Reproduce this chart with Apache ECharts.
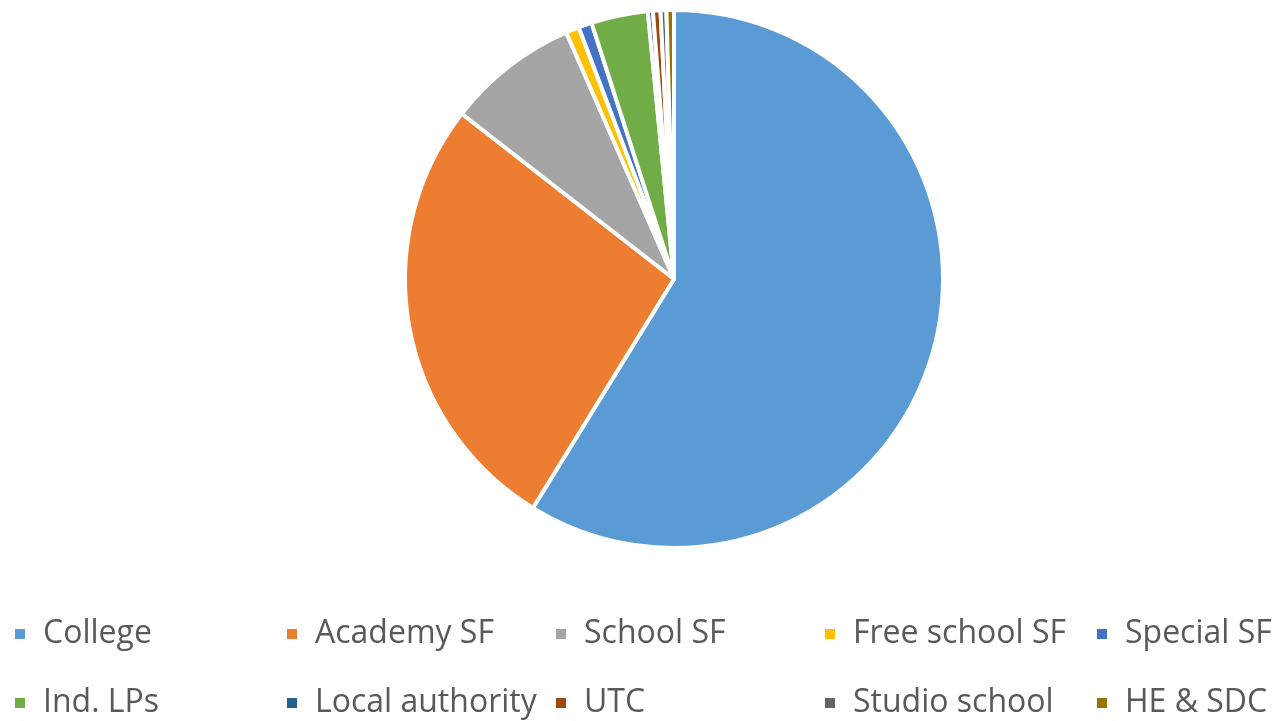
<!DOCTYPE html>
<html>
<head>
<meta charset="utf-8">
<script src="https://cdn.jsdelivr.net/npm/echarts@6/dist/echarts.min.js"></script>
<style>
  html, body { margin: 0; padding: 0; background: #fff; }
  #chart { width: 1278px; height: 721px; }
</style>
</head>
<body>
<div id="chart"></div>
<script>
// provider types, share of learners (%)
const categories = ['College', 'Academy SF', 'School SF', 'Free school SF', 'Special SF',
  'Ind. LPs', 'Local authority', 'UTC', 'Studio school', 'HE & SDC']
const shares = [58.7, 26.7, 7.9, 0.8, 0.8, 3.4, 0.3, 0.45, 0.35, 0.45]
const colors = ['#5B9BD5', '#ED7D31', '#A5A5A5', '#FFC000', '#4472C4',
  '#70AD47', '#255E91', '#9E480E', '#636363', '#997300']

// legend grid: 5 columns x 2 rows
const legendCols = [13, 285, 554, 823, 1095]
const legendRows = [618, 687]

const chart = echarts.init(document.getElementById('chart'))

const legends = categories.map((name, i) => ({
  data: [name],
  left: legendCols[i % 5],
  top: legendRows[Math.floor(i / 5)],
  padding: 0,
  itemWidth: 12,
  itemHeight: 12,
  icon: 'rect',
  selectedMode: false,
  textStyle: {
    fontFamily: 'Open Sans',
    fontSize: 32,
    color: '#595959',
    padding: [0, 0, 0, 12],
  },
}))

chart.setOption({
  animation: false,
  color: colors,
  legend: legends,
  series: [
    {
      type: 'pie',
      center: [674, 279],
      radius: 269,
      startAngle: 90,
      clockwise: true,
      avoidLabelOverlap: false,
      label: { show: false },
      labelLine: { show: false },
      emphasis: { disabled: true },
      itemStyle: { borderColor: '#fff', borderWidth: 4 },
      data: categories.map((name, i) => ({ name, value: shares[i] })),
    },
  ],
})
</script>
</body>
</html>
